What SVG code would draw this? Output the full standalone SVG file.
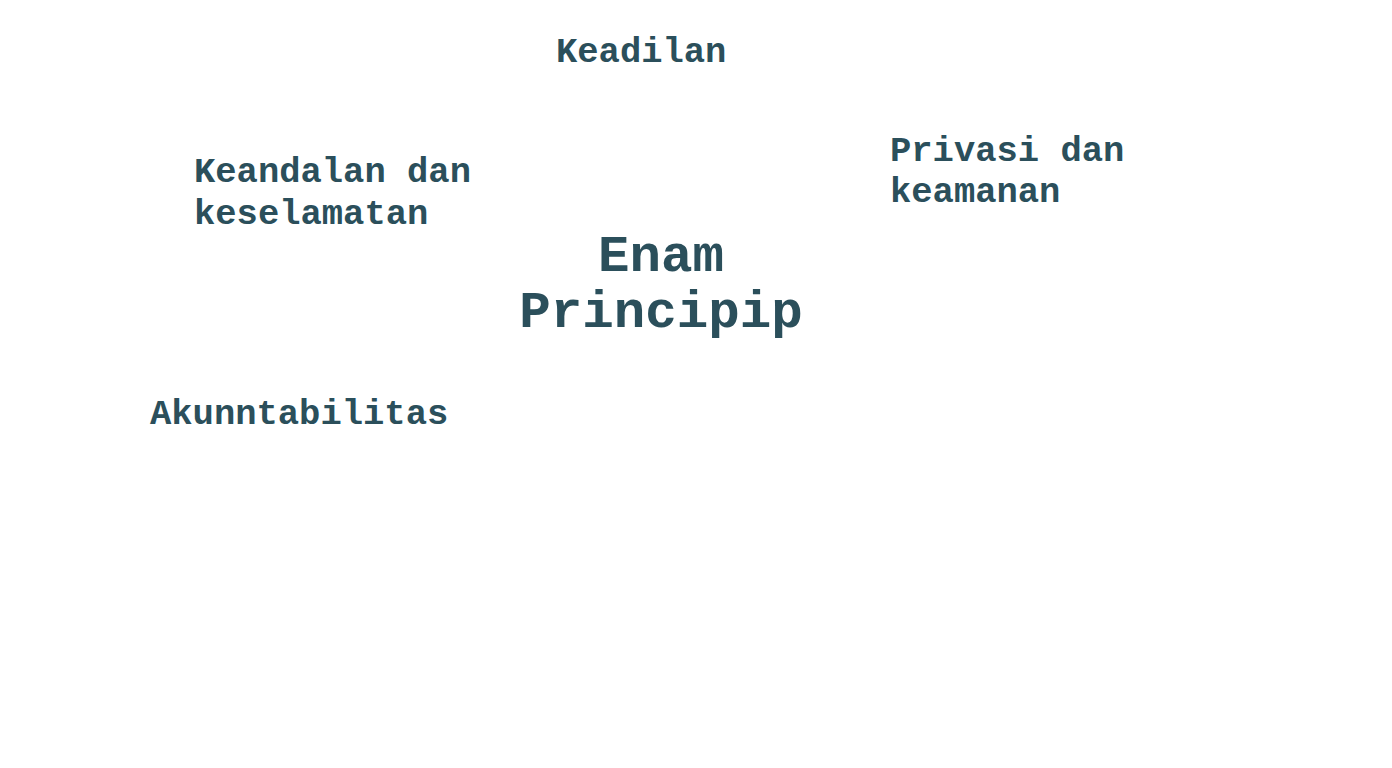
<svg xmlns="http://www.w3.org/2000/svg" width="1392" height="768" viewBox="0 0 1392 768">
<style>
.t{font-family:"Liberation Mono","Courier New",monospace;font-weight:bold;fill:#2b4f5b}
.s{font-size:35.5px}
.c{font-size:52.5px;text-anchor:middle}
</style>
<rect width="1392" height="768" fill="#ffffff"/>
<g id="center"><text class="t c" x="661" y="271">Enam</text><text class="t c" x="661" y="327">Principip</text></g>
<g id="keadilan"><text class="t s" x="556" y="62">Keadilan</text></g>
<g id="keandalan"><text class="t s" x="194" y="182">Keandalan dan</text><text class="t s" x="194" y="224">keselamatan</text></g>
<g id="privasi"><text class="t s" x="890" y="161">Privasi dan</text><text class="t s" x="890" y="202">keamanan</text></g>
<g id="akuntabilitas"><text class="t s" x="150" y="424">Akunntabilitas</text></g>
<g id="connectors"></g>
</svg>
